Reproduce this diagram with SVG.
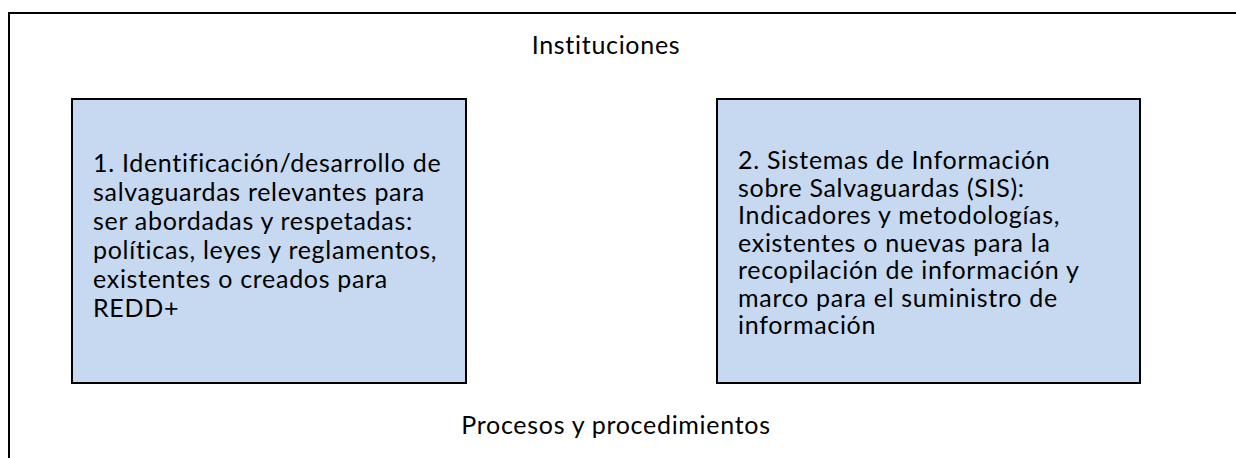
<svg xmlns="http://www.w3.org/2000/svg" width="1236" height="458" viewBox="0 0 1236 458">
<style>
.t{font-family:Lato,"Liberation Sans",sans-serif;font-size:25px;letter-spacing:0.7px;fill:#000}
.box{fill:#c6d9f0;stroke:#000;stroke-width:2}
</style>
<rect x="0" y="0" width="1236" height="458" fill="#fff"/>
<g id="outer">
<rect x="9" y="13" width="1240" height="460" fill="none" stroke="#000" stroke-width="2"/>
<text class="t" x="606" y="54" text-anchor="middle">Instituciones</text>
<text class="t" x="616" y="434" text-anchor="middle">Procesos y procedimientos</text>
</g>
<g id="node1">
<rect class="box" x="72" y="99" width="394" height="284"/>
<text class="t" x="93" y="172">
<tspan x="93" dy="0">1. Identificación/desarrollo de</tspan>
<tspan x="93" dy="29">salvaguardas relevantes para</tspan>
<tspan x="93" dy="29">ser abordadas y respetadas:</tspan>
<tspan x="93" dy="29">políticas, leyes y reglamentos,</tspan>
<tspan x="93" dy="29">existentes o creados para</tspan>
<tspan x="93" dy="29">REDD+</tspan>
</text>
</g>
<g id="node2">
<rect class="box" x="717" y="99" width="423" height="284"/>
<text class="t" x="738" y="169">
<tspan x="738" dy="0">2. Sistemas de Información</tspan>
<tspan x="738" dy="27.5">sobre Salvaguardas (SIS):</tspan>
<tspan x="738" dy="27.5">Indicadores y metodologías,</tspan>
<tspan x="738" dy="27.5">existentes o nuevas para la</tspan>
<tspan x="738" dy="27.5">recopilación de información y</tspan>
<tspan x="738" dy="27.5">marco para el suministro de</tspan>
<tspan x="738" dy="27.5">información</tspan>
</text>
</g>
<g id="connectors"/>
</svg>
